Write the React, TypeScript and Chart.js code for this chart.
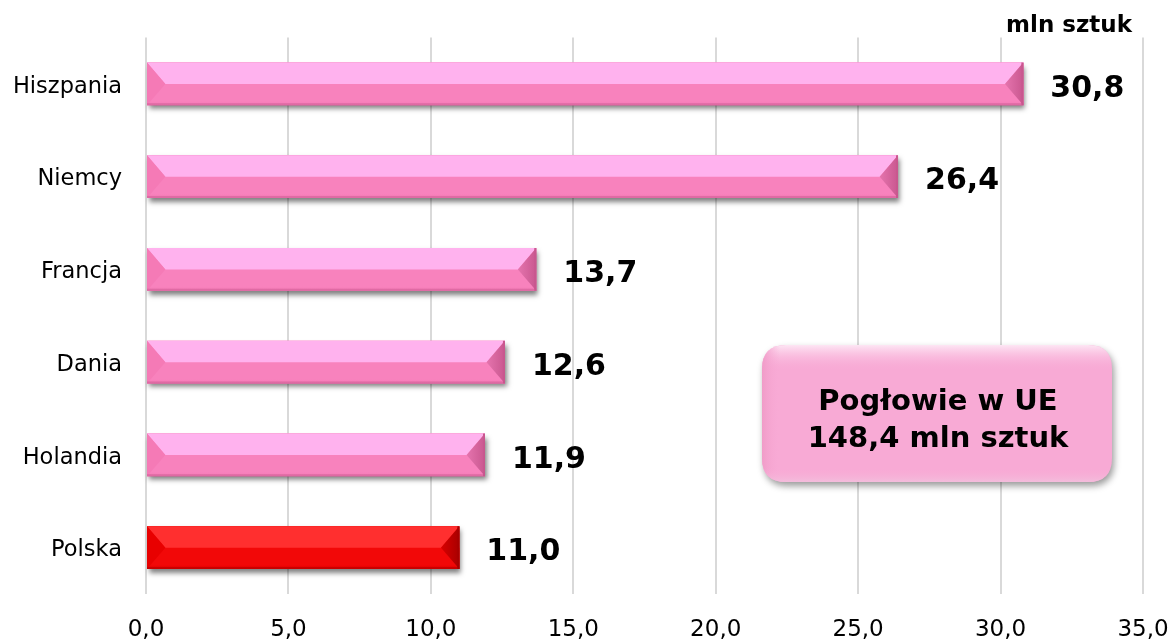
import React, { useEffect, useRef } from "react";
import { Chart, registerables } from "chart.js";

Chart.register(...registerables);

const categories = ["Hiszpania", "Niemcy", "Francja", "Dania", "Holandia", "Polska"];
const values = [30.8, 26.4, 13.7, 12.6, 11.9, 11.0];
const highlight = "Polska";
const xTicks = [0, 5, 10, 15, 20, 25, 30, 35];
const unitLabel = "mln sztuk";
const boxLines = ["Pogłowie w UE", "148,4 mln sztuk"];

const FONT = "'DejaVu Sans', Verdana, sans-serif";

const fmt = (v: number) => v.toFixed(1).replace(".", ",");

type Palette = { top: string; bottom: string; left: string; right: string; edge: string };
const PINK: Palette = { top: "#ffb2ee", bottom: "#f882bd", left: "#f57ab6", right: "#e574ae", edge: "#c9578f" };
const RED: Palette = { top: "#ff2f2f", bottom: "#f20808", left: "#e80000", right: "#d80000", edge: "#a80000" };

const barPlugin = {
  id: "bevelBars",
  afterDatasetsDraw(chart: any) {
    const ctx = chart.ctx as CanvasRenderingContext2D;
    const meta = chart.getDatasetMeta(0);
    meta.data.forEach((el: any, i: number) => {
      const p = el.getProps(["x", "y", "base", "height"], true);
      const left = Math.min(p.base, p.x);
      const right = Math.max(p.base, p.x);
      const top = p.y - p.height / 2;
      const bottom = p.y + p.height / 2;
      const mid = p.y;
      const b = p.height * 0.43;
      const pal = categories[i] === highlight ? RED : PINK;
      ctx.save();
      ctx.shadowColor = "rgba(0,0,0,0.5)";
      ctx.shadowBlur = 5;
      ctx.shadowOffsetX = 2;
      ctx.shadowOffsetY = 4;
      ctx.fillStyle = pal.bottom;
      ctx.fillRect(left, top, right - left, bottom - top);
      ctx.restore();
      ctx.save();
      const g = ctx.createLinearGradient(0, mid, 0, bottom);
      g.addColorStop(0, pal.bottom);
      g.addColorStop(0.8, pal.bottom);
      g.addColorStop(1, pal.left);
      ctx.fillStyle = g;
      ctx.fillRect(left, mid, right - left, bottom - mid);
      ctx.fillStyle = pal.top;
      ctx.beginPath();
      ctx.moveTo(left, top);
      ctx.lineTo(right, top);
      ctx.lineTo(right - b, mid);
      ctx.lineTo(left + b, mid);
      ctx.closePath();
      ctx.fill();
      ctx.fillStyle = pal.left;
      ctx.beginPath();
      ctx.moveTo(left, top);
      ctx.lineTo(left + b, mid);
      ctx.lineTo(left, bottom);
      ctx.closePath();
      ctx.fill();
      const rg = ctx.createLinearGradient(right - b, 0, right, 0);
      rg.addColorStop(0, pal.right);
      rg.addColorStop(1, pal.edge);
      ctx.fillStyle = rg;
      ctx.beginPath();
      ctx.moveTo(right, top);
      ctx.lineTo(right - b, mid);
      ctx.lineTo(right, bottom);
      ctx.closePath();
      ctx.fill();
      ctx.fillStyle = pal.edge;
      ctx.fillRect(right - 2, top, 2, bottom - top);
      ctx.globalAlpha = 0.5;
      ctx.fillRect(left, bottom - 2, right - left, 2);
      ctx.restore();

      ctx.save();
      ctx.font = `bold 30px ${FONT}`;
      ctx.fillStyle = "#000";
      ctx.textAlign = "left";
      ctx.textBaseline = "middle";
      ctx.fillText(fmt(values[i]), right + 27, mid + 5);
      ctx.restore();
    });
  },
  afterDraw(chart: any) {
    const ctx = chart.ctx as CanvasRenderingContext2D;
    const area = chart.chartArea;
    ctx.save();
    ctx.font = `bold 23px ${FONT}`;
    ctx.fillStyle = "#000";
    ctx.textAlign = "right";
    ctx.textBaseline = "middle";
    ctx.fillText(unitLabel, area.right - 11, 26);
    ctx.restore();

    const x = 762, y = 345, w = 350, h = 137, r = 24;
    const rr = (xx: number, yy: number, ww: number, hh: number, rad: number) => {
      ctx.beginPath();
      ctx.moveTo(xx + rad, yy);
      ctx.lineTo(xx + ww - rad, yy);
      ctx.quadraticCurveTo(xx + ww, yy, xx + ww, yy + rad);
      ctx.lineTo(xx + ww, yy + hh - rad);
      ctx.quadraticCurveTo(xx + ww, yy + hh, xx + ww - rad, yy + hh);
      ctx.lineTo(xx + rad, yy + hh);
      ctx.quadraticCurveTo(xx, yy + hh, xx, yy + hh - rad);
      ctx.lineTo(xx, yy + rad);
      ctx.quadraticCurveTo(xx, yy, xx + rad, yy);
      ctx.closePath();
    };
    ctx.save();
    ctx.shadowColor = "rgba(0,0,0,0.4)";
    ctx.shadowBlur = 7;
    ctx.shadowOffsetX = 2;
    ctx.shadowOffsetY = 4;
    ctx.fillStyle = "#f8aad5";
    rr(x, y, w, h, r);
    ctx.fill();
    ctx.restore();
    ctx.save();
    rr(x, y, w, h, r);
    ctx.clip();
    const tg = ctx.createLinearGradient(0, y, 0, y + 26);
    tg.addColorStop(0, "#fde6f4");
    tg.addColorStop(1, "rgba(248,170,213,0)");
    ctx.fillStyle = tg;
    ctx.fillRect(x, y, w, 26);
    const lg = ctx.createLinearGradient(x, 0, x + 18, 0);
    lg.addColorStop(0, "#f09cc8");
    lg.addColorStop(1, "rgba(248,170,213,0)");
    ctx.fillStyle = lg;
    ctx.fillRect(x, y, 18, h);
    const bg = ctx.createLinearGradient(0, y + h - 14, 0, y + h);
    bg.addColorStop(0, "rgba(248,170,213,0)");
    bg.addColorStop(1, "#f3bddc");
    ctx.fillStyle = bg;
    ctx.fillRect(x, y + h - 14, w, 14);
    ctx.restore();
    ctx.save();
    ctx.font = `bold 29px ${FONT}`;
    ctx.fillStyle = "#000";
    ctx.textAlign = "center";
    ctx.textBaseline = "middle";
    ctx.fillText(boxLines[0], x + w / 2 + 1, 402);
    ctx.fillText(boxLines[1], x + w / 2 + 1, 439);
    ctx.restore();
  },
};

export default function App() {
  const ref = useRef<HTMLCanvasElement | null>(null);
  useEffect(() => {
    if (!ref.current) return;
    const chart = new Chart(ref.current, {
      type: "bar",
      data: {
        labels: categories,
        datasets: [
          {
            data: values,
            backgroundColor: categories.map((c) => (c === highlight ? RED.bottom : PINK.bottom)),
            barPercentage: 0.46,
            categoryPercentage: 1,
          },
        ],
      },
      options: {
        indexAxis: "y",
        animation: false,
        responsive: true,
        maintainAspectRatio: false,
        layout: { padding: { top: 34, right: 33, left: 0, bottom: 0 } },
        plugins: { legend: { display: false }, tooltip: { enabled: false } },
        scales: {
          x: {
            min: 0,
            max: 35,
            afterBuildTicks: (axis: any) => {
              axis.ticks = xTicks.map((v) => ({ value: v }));
            },
            afterFit: (axis: any) => {
              axis.height = 46;
            },
            grid: {
              color: "#d9d9d9",
              lineWidth: 2,
              drawTicks: true,
              tickLength: 25,
              tickColor: "rgba(0,0,0,0)",
            },
            border: { display: false },
            ticks: {
              padding: 0,
              font: { family: FONT, size: 23, lineHeight: 1 },
              color: "#000",
              callback: (v: any) => fmt(Number(v)),
              maxRotation: 0,
            },
          },
          y: {
            afterFit: (axis: any) => {
              axis.width = 146;
            },
            grid: { display: false, drawTicks: false },
            border: { display: false },
            ticks: {
              padding: 24,
              labelOffset: 3,
              font: { family: FONT, size: 22.5 },
              color: "#000",
            },
          },
        },
      },
      plugins: [barPlugin],
    });
    return () => chart.destroy();
  }, []);
  return (
    <div style={{ position: "fixed", left: 0, top: 0, width: 1176, height: 640, background: "#fff" }}>
      <canvas ref={ref} />
    </div>
  );
}
